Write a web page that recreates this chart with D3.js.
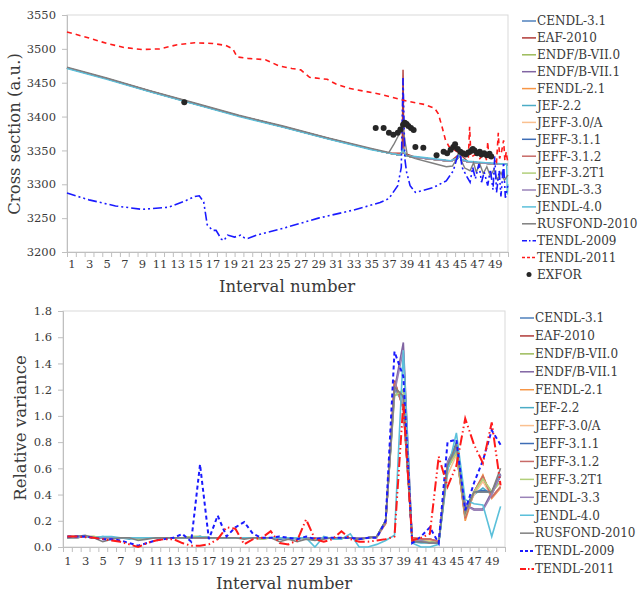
<html>
<head>
<meta charset="utf-8">
<title>Cross section and relative variance</title>
<style>
body{margin:0;background:#fff;}
text{font-family:"DejaVu Serif",serif;fill:#3a3a3a;}
</style>
</head>
<body>
<script src="https://cdn.jsdelivr.net/npm/d3@7"></script>
<script>
var width=639, height=594;

var libraries=["CENDL-3.1","EAF-2010","ENDF/B-VII.0","ENDF/B-VII.1","FENDL-2.1","JEF-2.2",
    "JEFF-3.0/A","JEFF-3.1.1","JEFF-3.1.2","JEFF-3.2T1","JENDL-3.3","JENDL-4.0",
    "RUSFOND-2010","TENDL-2009","TENDL-2011"];
var libColors=["#4f81bd","#b03a37","#9bbb59","#8064a2","#f79646","#4bacc6",
    "#fac090","#3e6db5","#c86a67","#b2cf7a","#9a83b8","#5bc0da",
    "#7f7f7f","#1a1aff","#ff1a1a"];

var intervals=[1,2,3,4,5,6,7,8,9,10,11,12,13,14,15,16,17,18,19,20,21,22,23,24,25,
    26,27,28,29,30,31,32,33,34,35,36,37,38,39,40,41,42,43,44,45,46,47,48,49,50];
var xTickLabels=[1,3,5,7,9,11,13,15,17,19,21,23,25,27,29,31,33,35,37,39,41,43,45,47,49];
var xsTicks=[3200,3250,3300,3350,3400,3450,3500,3550];
var rvTicks=[0,0.2,0.4,0.6,0.8,1.0,1.2,1.4,1.6,1.8];

// ---- cross section (top panel): [interval position, value] ----
var xsCommon=[[0.5,3472],[5,3456],[10,3437],[15,3419],[20,3401],[25,3385],[30,3368],[35,3352],[37,3346],
    [38.3,3343],[38.55,3350],[38.65,3350],[38.9,3342],[40,3340],[42,3337],[44,3334],[44.8,3338],[45,3345],
    [45.2,3336],[46,3333],[47,3332],[48,3331],[49,3330],[50,3330],[50.5,3329]];
var xsEaf=[[0.5,3472],[5,3456],[10,3437],[15,3419],[20,3401],[25,3385],[30,3368],[35,3352],[37,3346],
    [38.5,3346],[38.6,3469],[38.7,3346],[40,3340],[42,3337],[44,3334],[45,3345],[46,3333],[48,3331],[50,3330],[50.5,3329]];
var xsJendl40=[[0.5,3471],[5,3455],[10,3436],[15,3418],[20,3400],[25,3384],[30,3367],[35,3351],[37,3346],
    [38.3,3343],[38.6,3352],[38.9,3342],[40,3341],[42,3338],[44,3335],[44.8,3339],[45,3347],[45.2,3337],
    [46,3334],[47,3333],[48,3332],[49,3331],[50,3330],[50.35,3330],[50.42,3285],[50.5,3300]];
var xsRusfond=[[0.5,3473],[5,3457],[10,3438],[15,3420],[20,3402],[25,3386],[30,3369],[35,3353],[37,3347],
    [37.6,3360],[38.2,3375],[38.6,3385],[38.8,3365],[39.1,3342],[40,3338],[42,3331],[43.5,3326],[44.2,3327],
    [44.7,3338],[45,3352],[45.2,3335],[45.6,3324],[46.2,3320],[46.6,3332],[46.9,3318],[47.3,3330],[47.7,3316],
    [48.1,3326],[48.5,3312],[48.9,3322],[49.3,3307],[49.7,3318],[50.1,3306],[50.5,3314]];
var xsTendl2009=[[0.5,3287],[3,3277],[6,3268],[9,3263],[12,3266],[14,3276],[15,3282],[15.5,3283],[16,3274],
    [16.4,3240],[17,3232],[17.4,3232],[18,3219],[18.3,3217],[18.7,3225],[19.5,3222],[20.2,3225],[20.6,3221],
    [21,3220],[22,3225],[25,3235],[29,3250],[33,3262],[36,3273],[37,3279],[38,3298],[38.4,3325],[38.6,3457],
    [38.8,3338],[39,3318],[39.4,3298],[40,3288],[42,3295],[43.5,3305],[44.3,3320],[44.7,3338],[45,3352],
    [45.3,3325],[45.8,3312],[46.2,3303],[46.5,3325],[46.8,3308],[47.2,3330],[47.5,3303],[47.8,3318],
    [48.2,3298],[48.5,3322],[48.8,3292],[49,3341],[49.2,3288],[49.5,3320],[49.7,3282],[50,3332],[50.2,3280],[50.5,3300]];
var xsTendl2011=[[0.5,3525],[3,3516],[5,3508],[7,3502],[9,3499],[11,3500],[13,3506],[15,3509],[17,3508],
    [18.5,3505],[19.3,3500],[19.8,3488],[21,3486],[23,3484],[24.5,3475],[26,3471],[27,3469],[28,3458],
    [30,3455],[31,3448],[32.4,3442],[34,3438],[36,3433],[37.2,3429],[39,3423],[41,3418],[42.2,3412],
    [42.6,3404],[43,3386],[43.4,3366],[43.8,3356],[44.5,3350],[45,3346],[45.6,3342],[46,3338],[46.15,3385],
    [46.3,3340],[46.8,3344],[47.3,3338],[47.8,3345],[48.1,3335],[48.2,3363],[48.35,3336],[48.8,3342],
    [49.2,3333],[49.4,3376],[49.55,3338],[49.8,3350],[50,3365],[50.15,3335],[50.3,3348],[50.5,3330]];
var xsExfor=[[13.8,3421],[35.5,3383],[36.4,3383],[37.0,3376],[37.5,3373],[38.0,3376],[38.3,3381],[38.6,3388],
    [38.8,3391],[39.0,3389],[39.2,3386],[39.5,3383],[39.8,3380],[40.0,3355],[40.9,3354],[42.4,3343],[43.2,3348],
    [43.6,3346],[44.0,3351],[44.3,3355],[44.5,3359],[44.8,3352],[45.1,3348],[45.4,3346],[45.7,3344],[46.0,3347],
    [46.3,3349],[46.5,3352],[46.7,3350],[47.0,3346],[47.3,3348],[47.5,3344],[47.8,3346],[48.1,3343],[48.4,3345],[48.6,3341]];
// libraries whose curves coincide with xsCommon
var xsByLibrary=[xsCommon,xsEaf,xsCommon,xsCommon,xsCommon,xsCommon,xsCommon,xsCommon,xsCommon,
    xsCommon,xsCommon,xsJendl40,xsRusfond,xsTendl2009,xsTendl2011];

// ---- relative variance (bottom panel), one value per interval ----
var rvCendl31=[0.07,0.08,0.08,0.07,0.07,0.07,0.07,0.07,0.07,0.07,0.07,0.07,0.07,0.07,0.07,0.08,0.07,0.07,0.07,0.07,0.07,0.07,0.07,0.07,0.06,
    0.07,0.06,0.07,0.07,0.07,0.07,0.07,0.07,0.06,0.07,0.08,0.20,1.20,1.15,0.05,0.04,0.04,0.03,0.60,0.80,0.30,0.42,0.42,0.42,0.55];
var rvEaf2010=[0.08,0.08,0.08,0.07,0.07,0.07,0.07,0.07,0.07,0.07,0.07,0.07,0.07,0.07,0.07,0.07,0.07,0.07,0.07,0.07,0.07,0.07,0.07,0.07,0.07,
    0.07,0.07,0.07,0.07,0.07,0.07,0.07,0.07,0.07,0.07,0.08,0.18,1.27,1.05,0.07,0.06,0.06,0.04,0.62,0.72,0.22,0.42,0.54,0.38,0.46];
var rvEndf70=[0.07,0.07,0.08,0.08,0.07,0.07,0.07,0.07,0.06,0.07,0.07,0.07,0.07,0.07,0.08,0.08,0.07,0.07,0.07,0.07,0.07,0.07,0.06,0.07,0.07,
    0.07,0.07,0.06,0.06,0.07,0.07,0.07,0.07,0.07,0.07,0.08,0.20,1.15,1.20,0.05,0.05,0.04,0.03,0.60,0.72,0.25,0.42,0.52,0.42,0.50];
var rvEndf71=[0.07,0.07,0.08,0.07,0.07,0.07,0.07,0.07,0.07,0.07,0.07,0.07,0.07,0.07,0.07,0.07,0.07,0.07,0.07,0.07,0.07,0.07,0.07,0.07,0.07,
    0.07,0.07,0.07,0.07,0.07,0.07,0.07,0.07,0.07,0.07,0.08,0.19,1.20,1.56,0.04,0.05,0.03,0.03,0.65,0.78,0.32,0.29,0.29,0.42,0.56];
var rvFendl21=[0.08,0.08,0.08,0.07,0.07,0.07,0.07,0.07,0.07,0.07,0.07,0.07,0.07,0.07,0.07,0.07,0.07,0.07,0.07,0.07,0.07,0.07,0.07,0.07,0.07,
    0.07,0.07,0.07,0.07,0.07,0.07,0.07,0.07,0.07,0.07,0.08,0.20,1.25,1.08,0.07,0.06,0.06,0.04,0.63,0.73,0.20,0.42,0.55,0.37,0.45];
var rvJef22=[0.07,0.07,0.08,0.07,0.08,0.07,0.07,0.06,0.07,0.07,0.07,0.07,0.07,0.07,0.07,0.07,0.07,0.07,0.07,0.07,0.07,0.07,0.07,0.07,0.07,
    0.06,0.07,0.07,0.06,0.07,0.07,0.07,0.07,0.06,0.07,0.07,0.20,1.20,1.10,0.04,0.03,0.03,0.03,0.60,0.75,0.28,0.40,0.45,0.40,0.55];
var rvJeff30a=[0.07,0.08,0.08,0.07,0.07,0.07,0.07,0.07,0.07,0.07,0.07,0.07,0.07,0.07,0.07,0.07,0.07,0.07,0.07,0.07,0.07,0.07,0.07,0.07,0.07,
    0.07,0.07,0.07,0.07,0.07,0.07,0.07,0.07,0.07,0.07,0.07,0.18,1.22,1.10,0.06,0.05,0.05,0.04,0.55,0.70,0.25,0.40,0.50,0.38,0.46];
var rvJeff311=[0.07,0.08,0.08,0.07,0.07,0.07,0.07,0.07,0.07,0.07,0.07,0.07,0.07,0.07,0.07,0.08,0.07,0.07,0.07,0.07,0.07,0.07,0.07,0.07,0.06,
    0.07,0.07,0.07,0.07,0.07,0.07,0.07,0.07,0.06,0.07,0.08,0.20,1.21,1.14,0.05,0.04,0.04,0.03,0.61,0.79,0.29,0.42,0.43,0.42,0.54];
var rvJeff312=[0.08,0.08,0.08,0.07,0.07,0.07,0.07,0.07,0.07,0.07,0.07,0.07,0.07,0.07,0.07,0.07,0.07,0.07,0.07,0.07,0.07,0.07,0.07,0.07,0.07,
    0.07,0.07,0.07,0.07,0.07,0.07,0.07,0.07,0.07,0.07,0.08,0.18,1.26,1.06,0.07,0.06,0.06,0.04,0.62,0.72,0.22,0.42,0.54,0.38,0.46];
var rvJeff32t1=[0.07,0.07,0.08,0.08,0.07,0.07,0.07,0.07,0.06,0.07,0.07,0.07,0.07,0.07,0.08,0.08,0.07,0.07,0.07,0.07,0.07,0.07,0.06,0.07,0.07,
    0.07,0.07,0.06,0.06,0.07,0.07,0.07,0.07,0.07,0.07,0.08,0.20,1.16,1.19,0.05,0.05,0.04,0.03,0.60,0.72,0.25,0.42,0.52,0.42,0.50];
var rvJendl33=[0.07,0.07,0.08,0.07,0.07,0.07,0.07,0.07,0.07,0.07,0.07,0.07,0.07,0.07,0.07,0.07,0.07,0.07,0.07,0.07,0.07,0.07,0.07,0.07,0.07,
    0.07,0.07,0.07,0.07,0.07,0.07,0.07,0.07,0.07,0.07,0.08,0.19,1.18,1.50,0.04,0.05,0.03,0.03,0.64,0.77,0.32,0.28,0.28,0.40,0.55];
var rvJendl40=[0.08,0.08,0.08,0.07,0.08,0.08,0.07,0.07,0.07,0.07,0.07,0.07,0.07,0.07,0.07,0.08,0.07,0.07,0.07,0.07,0.07,0.07,0.07,0.07,0.07,
    0.07,0.07,0.07,0.00,0.08,0.06,0.06,0.10,0.00,0.00,0.02,0.05,0.09,1.50,0.03,0.00,0.00,0.02,0.58,0.87,0.36,0.33,0.32,0.08,0.31];
var rvRusfond=[0.07,0.08,0.09,0.07,0.04,0.06,0.07,0.07,0.05,0.06,0.07,0.07,0.07,0.07,0.07,0.07,0.07,0.07,0.07,0.07,0.06,0.07,0.07,0.07,0.04,
    0.06,0.04,0.06,0.05,0.06,0.07,0.07,0.07,0.06,0.07,0.08,0.20,1.22,1.15,0.04,0.04,0.03,0.03,0.62,0.78,0.26,0.42,0.42,0.42,0.60];
var rvTendl2009=[0.08,0.08,0.08,0.07,0.06,0.06,0.05,0.03,0.01,0.03,0.05,0.06,0.07,0.10,0.04,0.63,0.06,0.24,0.08,0.15,0.19,0.10,0.07,0.07,0.08,
    0.07,0.06,0.08,0.06,0.07,0.07,0.07,0.07,0.06,0.07,0.07,0.20,1.49,1.30,0.03,0.08,0.15,0.03,0.80,0.82,0.28,0.49,0.66,0.89,0.78];
var rvTendl2011=[0.08,0.08,0.075,0.07,0.06,0.05,0.04,0.02,0.00,0.03,0.05,0.06,0.06,0.03,0.01,0.01,0.02,0.06,0.15,0.14,0.02,0.06,0.07,0.12,0.03,
    0.02,0.05,0.21,0.06,0.04,0.06,0.12,0.06,0.04,0.04,0.05,0.06,0.08,1.10,0.05,0.07,0.10,0.69,0.46,0.62,0.98,0.78,0.64,0.95,0.47];
var rvByLibrary=[rvCendl31,rvEaf2010,rvEndf70,rvEndf71,rvFendl21,rvJef22,rvJeff30a,rvJeff311,rvJeff312,
    rvJeff32t1,rvJendl33,rvJendl40,rvRusfond,rvTendl2009,rvTendl2011];

var svg=d3.select('body').append('svg')
    .attr('width',width)
    .attr('height',height);

function drawFrame(x,y,yTicks,yFmt,xLabelPad,yLabelPad){
    var g=svg.append('g');
    var x0=x.range()[0], x1=x.range()[1], y0=y.range()[1], y1=y.range()[0];
    g.append('rect')
        .attr('x',x0).attr('y',y0).attr('width',x1-x0).attr('height',y1-y0)
        .attr('fill','none').attr('stroke','#d9d9d9').attr('stroke-width',1);
    // y axis
    var ya=g.append('g').attr('transform','translate('+x0+',0)')
        .call(d3.axisLeft(y).tickValues(yTicks).tickFormat(yFmt).tickSize(5).tickPadding(yLabelPad));
    ya.select('.domain').attr('stroke','#bfbfbf');
    ya.selectAll('line').attr('stroke','#bfbfbf');
    // x minor ticks at category boundaries
    var boundaries=intervals.map(function(d){return d-0.5;}).concat([50.5]);
    var xt=g.append('g').attr('transform','translate(0,'+y1+')')
        .call(d3.axisBottom(x).tickValues(boundaries).tickFormat('').tickSize(5));
    xt.select('.domain').attr('stroke','#bfbfbf');
    xt.selectAll('line').attr('stroke','#bfbfbf');
    // x labels
    var xl=g.append('g').attr('transform','translate(0,'+y1+')')
        .call(d3.axisBottom(x).tickValues(xTickLabels).tickFormat(d3.format('d')).tickSize(0).tickPadding(xLabelPad));
    xl.select('.domain').remove();
    g.selectAll('.tick text').attr('font-size',11.5).attr('fill','#3a3a3a');
    return g;
}

// ================= top panel =================
var xTop=d3.scaleLinear().domain([0.5,50.5]).range([67,508]);
var yTop=d3.scaleLinear().domain([3200,3550]).range([252,15]);
drawFrame(xTop,yTop,xsTicks,d3.format('d'),8,6);

var lineTop=d3.line()
    .x(function(d){return xTop(d[0]);})
    .y(function(d){return yTop(d[1]);});

var topDash={13:"9,3,2,3,2,3",14:"5,4"};
var plotTop=svg.append('g');
plotTop.selectAll('path.lib')
    .data(xsByLibrary)
    .enter()
    .append('path')
    .attr('class','lib')
    .attr('d',function(d){return lineTop(d);})
    .attr('fill','none')
    .attr('stroke',function(d,i){return libColors[i];})
    .attr('stroke-width',function(d,i){return i>=13?1.6:1.4;})
    .attr('stroke-dasharray',function(d,i){return topDash[i]||null;});

plotTop.selectAll('circle')
    .data(xsExfor)
    .enter()
    .append('circle')
    .attr('cx',function(d){return xTop(d[0]);})
    .attr('cy',function(d){return yTop(d[1]);})
    .attr('r',3)
    .attr('fill','#262626');

svg.append('text')
    .attr('x',287).attr('y',292)
    .attr('text-anchor','middle')
    .attr('font-size',16.5)
    .text('Interval number');
svg.append('text')
    .attr('transform','translate(20,134) rotate(-90)')
    .attr('text-anchor','middle')
    .attr('font-size',16.5)
    .text('Cross section (a.u.)');

// top legend
var legTop=svg.append('g');
var topLegendNames=libraries.concat(['EXFOR']);
topLegendNames.forEach(function(name,i){
    var cy=21+i*16.9;
    if(name==='EXFOR'){
        legTop.append('circle').attr('cx',529).attr('cy',cy).attr('r',2.5).attr('fill','#262626');
    }else{
        legTop.append('line')
            .attr('x1',522).attr('x2',536).attr('y1',cy).attr('y2',cy)
            .attr('stroke',libColors[i]).attr('stroke-width',1.5)
            .attr('stroke-dasharray',i===13?'5,2,1.5,2':(i===14?'3,2':null));
    }
    legTop.append('text')
        .attr('x',537).attr('y',cy+4.3)
        .attr('font-size',12)
        .text(name);
});

// ================= bottom panel =================
var xBot=d3.scaleLinear().domain([0.5,50.5]).range([63,505]);
var yBot=d3.scaleLinear().domain([0,1.8]).range([547,311]);
drawFrame(xBot,yBot,rvTicks,d3.format('.1f'),10,6);

var lineBot=d3.line()
    .x(function(d,i){return xBot(intervals[i]);})
    .y(function(d){return yBot(d);});

var botDash={13:"4,3",14:"10,3,1.5,3,1.5,3"};
svg.append('g').selectAll('path')
    .data(rvByLibrary)
    .enter()
    .append('path')
    .attr('d',function(d){return lineBot(d);})
    .attr('fill','none')
    .attr('stroke',function(d,i){return libColors[i];})
    .attr('stroke-width',function(d,i){return i>=13?2:1.6;})
    .attr('stroke-dasharray',function(d,i){return botDash[i]||null;});

svg.append('text')
    .attr('x',284).attr('y',589)
    .attr('text-anchor','middle')
    .attr('font-size',16.5)
    .text('Interval number');
svg.append('text')
    .attr('transform','translate(26,428) rotate(-90)')
    .attr('text-anchor','middle')
    .attr('font-size',16.5)
    .text('Relative variance');

var legBot=svg.append('g');
libraries.forEach(function(name,i){
    var cy=318+i*17.93;
    legBot.append('line')
        .attr('x1',520).attr('x2',534).attr('y1',cy).attr('y2',cy)
        .attr('stroke',libColors[i]).attr('stroke-width',i>=13?2:1.5)
        .attr('stroke-dasharray',i===13?'3,2':(i===14?'6,2,1.5,2':null));
    legBot.append('text')
        .attr('x',535).attr('y',cy+4.3)
        .attr('font-size',12)
        .text(name);
});
</script>
</body>
</html>
